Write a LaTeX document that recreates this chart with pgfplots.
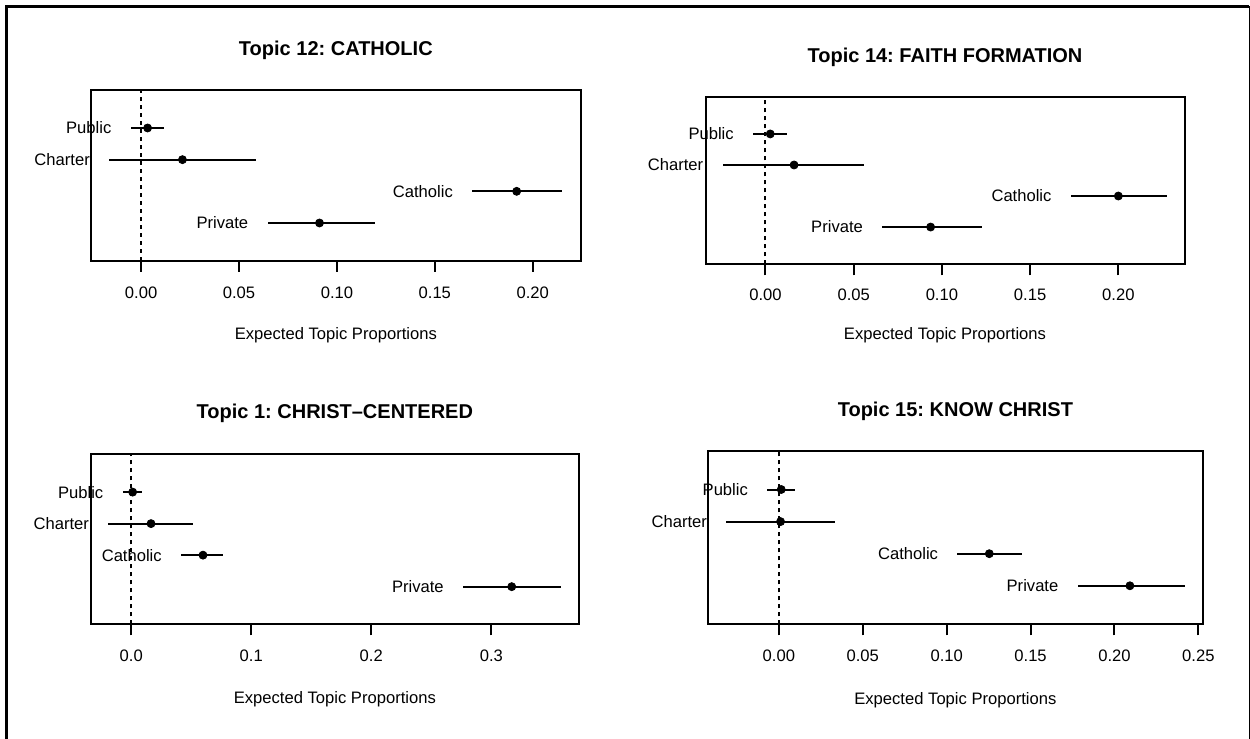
\documentclass[border=0pt]{standalone}
\usepackage{pgfplots}
\usepackage{pgfplotstable}
\pgfplotsset{compat=1.18}
\usepackage{fontspec}
\setmainfont{Liberation Sans}
\frenchspacing

% Topic 12: CATHOLIC
\pgfplotstableread{
label y m lo hi
Public 4 0.0033 -0.0053 0.0118
Charter 3 0.0211 -0.0163 0.0585
Catholic 2 0.1918 0.1691 0.2152
Private 1 0.0911 0.0646 0.1193
}\tabA
% Topic 14: FAITH FORMATION
\pgfplotstableread{
label y m lo hi
Public 4 0.0027 -0.0070 0.0121
Charter 3 0.0162 -0.0243 0.0560
Catholic 2 0.2000 0.1731 0.2277
Private 1 0.0936 0.0662 0.1229
}\tabB
% Topic 1: CHRIST-CENTERED
\pgfplotstableread{
label y m lo hi
Public 4 0.0012 -0.0071 0.0088
Charter 3 0.0165 -0.0190 0.0515
Catholic 2 0.0598 0.0416 0.0761
Private 1 0.3170 0.2765 0.3580
}\tabC
% Topic 15: KNOW CHRIST
\pgfplotstableread{
label y m lo hi
Public 4 0.0014 -0.0069 0.0098
Charter 3 0.0010 -0.0313 0.0335
Catholic 2 0.1254 0.1064 0.1451
Private 1 0.2092 0.1781 0.2420
}\tabD

\newcommand{\txt}{\fontsize{8.3}{10}\selectfont}

\pgfplotsset{
  effplot/.style n args={4}{
    scale only axis, anchor=south west, clip=false,
    ymin=-0.2, ymax=5.2, ytick=\empty,
    axis line style={line width=1pt},
    xtick pos=bottom, xtick align=outside,
    major tick length=5.5pt,
    every tick/.style={black, line width=1pt},
    scaled x ticks=false,
    xticklabel style={font=\txt, anchor=base, yshift=#2,
      /pgf/number format/assume math mode=true,
      /pgf/number format/fixed, /pgf/number format/fixed zerofill,
      /pgf/number format/precision=#4},
    every axis title/.style={at={(0.5,1)}, anchor=base, yshift=#1,
      font=\bfseries\fontsize{10}{12}\selectfont},
    every axis x label/.style={at={(0.5,0)}, anchor=base, yshift=#3, font=\txt},
    xlabel={Expected Topic Proportions},
  },
  ci/.style={black, draw=none, mark=*, mark size=2pt,
    error bars/.cd, x dir=both, x explicit, error mark=none,
    error bar style={line width=1pt, black}},
  lab/.style={draw=none, mark=none, nodes near coords,
    point meta=explicit symbolic,
    every node near coord/.append style={anchor=east, inner sep=0pt,
      xshift=-9.5pt, font=\txt, black}},
  zeroline/.style={black, line width=1pt, dash pattern=on 2pt off 2pt},
}

\begin{document}
\begin{tikzpicture}
\useasboundingbox (0,0) rectangle (625pt,369.5pt);
\draw[line width=1.25pt] (3.15pt,0pt) -- (3.15pt,366.35pt) -- (624.5pt,366.35pt);
\draw[line width=0.5pt] (624.5pt,366.35pt) -- (624.5pt,0pt);

% Top left
\begin{axis}[effplot={17.4pt}{-13.5pt}{-39.5pt}{2},
  at={(45.5pt,239pt)}, width=244.85pt, height=85.5pt,
  xmin=-0.0256, xmax=0.2245, xtick={0,0.05,0.1,0.15,0.2},
  title={Topic 12: CATHOLIC}]
\addplot[zeroline] coordinates {(0,-0.2) (0,5.2)};
\addplot[ci] table[x=m, y=y, x error plus expr=\thisrow{hi}-\thisrow{m}, x error minus expr=\thisrow{m}-\thisrow{lo}]{\tabA};
\addplot[lab] table[x=lo, y=y, meta=label]{\tabA};
\end{axis}

% Top right
\begin{axis}[effplot={17.25pt}{-12.5pt}{-37.85pt}{2},
  at={(352.75pt,237.35pt)}, width=239.5pt, height=83.8pt,
  xmin=-0.034, xmax=0.2375, xtick={0,0.05,0.1,0.15,0.2},
  title={Topic 14: FAITH FORMATION}]
\addplot[zeroline] coordinates {(0,-0.2) (0,5.2)};
\addplot[ci] table[x=m, y=y, x error plus expr=\thisrow{hi}-\thisrow{m}, x error minus expr=\thisrow{m}-\thisrow{lo}]{\tabB};
\addplot[lab] table[x=lo, y=y, meta=label]{\tabB};
\end{axis}

% Bottom left
\begin{axis}[effplot={17.7pt}{-13.25pt}{-39.6pt}{1},
  at={(45.5pt,57.25pt)}, width=243.85pt, height=85.1pt,
  xmin=-0.0335, xmax=0.3728, xtick={0,0.1,0.2,0.3},
  title={Topic 1: CHRIST\textendash CENTERED}]
\addplot[zeroline] coordinates {(0,-0.2) (0,5.2)};
\addplot[ci] table[x=m, y=y, x error plus expr=\thisrow{hi}-\thisrow{m}, x error minus expr=\thisrow{m}-\thisrow{lo}]{\tabC};
\addplot[lab] table[x=lo, y=y, meta=label]{\tabC};
\end{axis}

% Bottom right
\begin{axis}[effplot={17.25pt}{-13.35pt}{-40pt}{2},
  at={(353.95pt,57.35pt)}, width=247.5pt, height=86.65pt,
  xmin=-0.0423, xmax=0.2527, xtick={0,0.05,0.1,0.15,0.2,0.25},
  title={Topic 15: KNOW CHRIST}]
\addplot[zeroline] coordinates {(0,-0.2) (0,5.2)};
\addplot[ci] table[x=m, y=y, x error plus expr=\thisrow{hi}-\thisrow{m}, x error minus expr=\thisrow{m}-\thisrow{lo}]{\tabD};
\addplot[lab] table[x=lo, y=y, meta=label]{\tabD};
\end{axis}
\end{tikzpicture}
\end{document}
